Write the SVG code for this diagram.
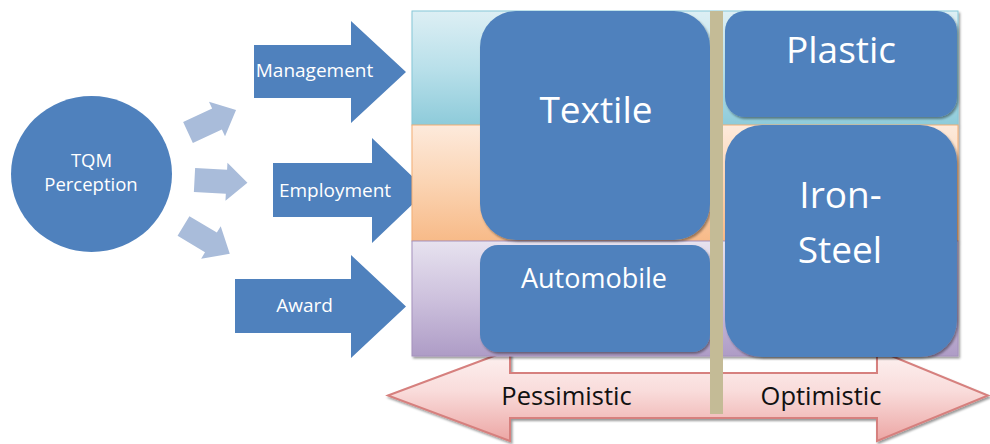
<svg xmlns="http://www.w3.org/2000/svg" width="990" height="444" viewBox="0 0 990 444">
  <style>
    .blue { fill: #4f81bd; }
    .light { fill: #a9bcda; }
    .lbl { font-family: "Open Sans", "Liberation Sans", sans-serif; fill: #ffffff; text-anchor: middle; }
    .sm { font-size: 19px; }
    .cs { font-size: 18.5px; }
    .big { font-size: 37px; }
    .mid { font-size: 27px; }
    .axis { font-family: "Open Sans", "Liberation Sans", sans-serif; font-size: 25.5px; fill: #111111; text-anchor: middle; }
  </style>
  <defs>
    <filter id="shadow" x="-5%" y="-5%" width="115%" height="120%">
      <feDropShadow dx="1.5" dy="2" stdDeviation="1" flood-color="#000000" flood-opacity="0.4"/>
    </filter>
    <linearGradient id="gTeal" gradientUnits="userSpaceOnUse" x1="0" y1="11" x2="0" y2="125">
      <stop offset="0" stop-color="#ddeff4"/>
      <stop offset="0.5" stop-color="#b9e0ea"/>
      <stop offset="1" stop-color="#8ecbda"/>
    </linearGradient>
    <linearGradient id="gOrange" gradientUnits="userSpaceOnUse" x1="0" y1="125" x2="0" y2="241">
      <stop offset="0" stop-color="#fdeadc"/>
      <stop offset="0.5" stop-color="#fbd4b3"/>
      <stop offset="1" stop-color="#f7ba88"/>
    </linearGradient>
    <linearGradient id="gPurple" gradientUnits="userSpaceOnUse" x1="0" y1="241" x2="0" y2="356">
      <stop offset="0" stop-color="#e7e2ef"/>
      <stop offset="0.5" stop-color="#cdc1dd"/>
      <stop offset="1" stop-color="#ae9cc6"/>
    </linearGradient>
    <linearGradient id="gPink" gradientUnits="userSpaceOnUse" x1="0" y1="350" x2="0" y2="441">
      <stop offset="0" stop-color="#fdf3f2"/>
      <stop offset="0.45" stop-color="#f9dcdb"/>
      <stop offset="1" stop-color="#eca6a4"/>
    </linearGradient>
  </defs>

  <rect width="990" height="444" fill="#ffffff"/>

  <!-- source circle -->
  <g id="tqm-perception">
    <ellipse class="blue" cx="91.5" cy="174" rx="80.5" ry="78"/>
    <text class="lbl cs" x="91.5" y="167">TQM</text>
    <text class="lbl cs" x="91" y="191">Perception</text>
  </g>

  <!-- small arrows from the circle -->
  <g id="connectors" class="light">
    <path d="M0,-11.5 H32 V-19 L53,0 L32,19 V11.5 H0 Z" transform="translate(188,132.5) rotate(-25)"/>
    <path d="M0,-12 H32 V-19 L53,0 L32,19 V12 H0 Z" transform="translate(194.5,180) rotate(3)"/>
    <path d="M0,-11.5 H32 V-19 L54,0 L32,19 V11.5 H0 Z" transform="translate(183.5,226) rotate(31)"/>
  </g>

  <!-- dimension arrows -->
  <g id="management">
    <path class="blue" d="M254,45 H351 V21 L406,72 L351,123 V98 H254 Z"/>
    <text class="lbl sm" x="314.5" y="77.3">Management</text>
  </g>
  <g id="employment">
    <path class="blue" d="M273,163 H372 V138 L427,190.5 L372,243 V217 H273 Z"/>
    <text class="lbl sm" x="335" y="196.7">Employment</text>
  </g>
  <g id="award">
    <path class="blue" d="M235,279 H351 V255 L406,306.5 L351,358 V333 H235 Z"/>
    <text class="lbl sm" x="304.5" y="311.7">Award</text>
  </g>

  <!-- pessimistic / optimistic scale -->
  <g id="scale">
    <path d="M388,395.5 L510,350 V373 H877 V350 L988,395.5 L877,441 V418 H510 V441 Z" fill="url(#gPink)" stroke="#d6807e" stroke-width="2" stroke-linejoin="miter" filter="url(#shadow)"/>
  </g>

  <!-- background bands -->
  <g id="bands" filter="url(#shadow)">
    <rect x="412" y="11" width="546" height="114" fill="url(#gTeal)" stroke="#86c8d8" stroke-width="1"/>
    <rect x="412" y="125" width="546" height="116" fill="url(#gOrange)" stroke="#f3ad74" stroke-width="1"/>
    <rect x="412" y="241" width="546" height="115" fill="url(#gPurple)" stroke="#a592bd" stroke-width="1"/>
  </g>

  <!-- sector boxes -->
  <g id="textile">
    <rect class="blue" x="480" y="11" width="230" height="229" rx="36" filter="url(#shadow)"/>
    <text class="lbl big" x="596" y="122.7">Textile</text>
  </g>
  <g id="automobile">
    <rect class="blue" x="480" y="245" width="230" height="107" rx="18" filter="url(#shadow)"/>
    <text class="lbl mid" x="594" y="287.7">Automobile</text>
  </g>
  <g id="plastic">
    <rect class="blue" x="725" y="11" width="232" height="106" rx="20" filter="url(#shadow)"/>
    <text class="lbl big" x="841" y="63.3">Plastic</text>
  </g>
  <g id="iron-steel">
    <rect class="blue" x="725" y="125" width="232" height="232" rx="37" filter="url(#shadow)"/>
    <text class="lbl big" x="840.5" y="208.3">Iron-</text>
    <text class="lbl big" x="840" y="263.3">Steel</text>
  </g>

  <!-- divider between the two halves -->
  <rect id="divider" x="710" y="11" width="13" height="403" fill="#c4bb96"/>

  <g id="scale-labels">
    <text class="axis" x="566.5" y="405">Pessimistic</text>
    <text class="axis" x="821" y="405">Optimistic</text>
  </g>
</svg>
